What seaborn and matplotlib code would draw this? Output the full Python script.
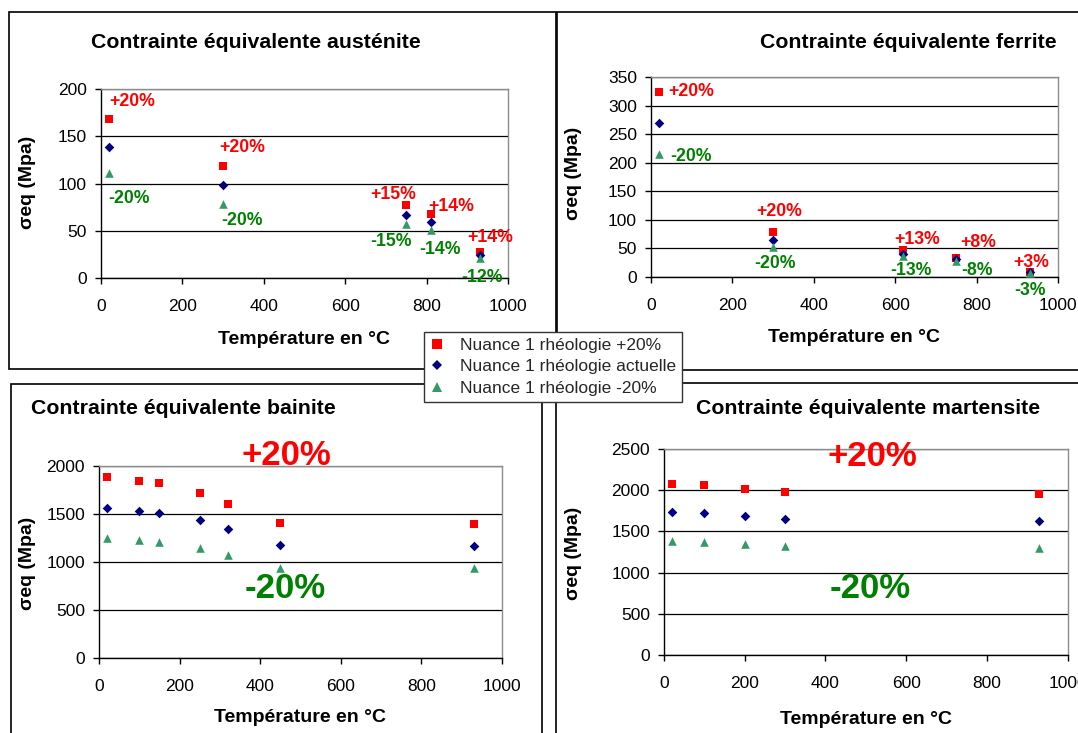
import matplotlib
matplotlib.use("Agg")
import matplotlib.pyplot as plt
import seaborn as sns
import pandas as pd
from matplotlib.patches import Rectangle
from matplotlib.lines import Line2D

# ---------------- data ----------------
series_names = ["Nuance 1 rhéologie +20%",
                "Nuance 1 rhéologie actuelle",
                "Nuance 1 rhéologie -20%"]

# austénite
aus_temp = [20, 300, 750, 812, 930]
aus_plus = [168, 118, 77, 68, 27]
aus_actual = [139, 98, 67, 59, 24]
aus_minus = [111, 78, 57, 51, 21]
aus_plus_labels = ["+20%", "+20%", "+15%", "+14%", "+14%"]
aus_minus_labels = ["-20%", "-20%", "-15%", "-14%", "-12%"]

# ferrite
fer_temp = [20, 300, 620, 750, 930]
fer_plus = [323, 78, 47, 34, 8.5]
fer_actual = [269, 65, 41, 31, 8]
fer_minus = [215, 52, 36, 28.5, 7.5]
fer_plus_labels = ["+20%", "+20%", "+13%", "+8%", "+3%"]
fer_minus_labels = ["-20%", "-20%", "-13%", "-8%", "-3%"]

# bainite
bai_temp = [20, 100, 150, 250, 320, 450, 930]
bai_plus = [1880, 1840, 1815, 1718, 1605, 1404, 1392]
bai_actual = [1563, 1532, 1508, 1432, 1342, 1170, 1163]
bai_minus = [1250, 1225, 1205, 1145, 1073, 935, 930]

# martensite
mar_temp = [20, 100, 200, 300, 930]
mar_plus = [2075, 2060, 2020, 1975, 1950]
mar_actual = [1730, 1718, 1685, 1648, 1622]
mar_minus = [1380, 1372, 1345, 1318, 1300]

titles = ["Contrainte équivalente austénite",
          "Contrainte équivalente ferrite",
          "Contrainte équivalente bainite",
          "Contrainte équivalente martensite"]
x_label = "Température en °C"
y_label = "σeq (Mpa)"

# ---------------- style ----------------
sns.set_theme(style="white")
plt.rcParams["font.family"] = ["Liberation Sans", "DejaVu Sans"]

W, H = 1078, 733
RED = "#FF0000"
NAVY = "#000080"
SEA = "#339966"
GREEN = "#008000"
markers = ["s", "D", "^"]
colors = [RED, NAVY, SEA]
msizes = [32, 24, 38]

fig = plt.figure(figsize=(W / 100, H / 100), dpi=100)
fig.patch.set_facecolor("white")


def px(x, y):
    return x / W, 1 - y / H


def add_axes(left, top, right, bottom):
    return fig.add_axes([left / W, 1 - bottom / H, (right - left) / W, (bottom - top) / H])


def draw_panel(ax, temp, plus, actual, minus, ymax, ystep):
    df = pd.DataFrame({
        "temp": temp * 3,
        "sigma": plus + actual + minus,
        "serie": [series_names[0]] * len(temp) + [series_names[1]] * len(temp)
                 + [series_names[2]] * len(temp),
    })
    for name, mk, col, sz in zip(series_names, markers, colors, msizes):
        sub = df[df["serie"] == name]
        sns.scatterplot(data=sub, x="temp", y="sigma", marker=mk, color=col,
                        s=sz, linewidth=0, ax=ax, legend=False, zorder=4,
                        clip_on=False)
    ax.set_xlim(0, 1000)
    ax.set_ylim(0, ymax)
    ax.set_xticks(range(0, 1001, 200))
    ax.set_yticks(range(0, ymax + 1, ystep))
    ax.set_xlabel("")
    ax.set_ylabel("")
    ax.set_facecolor("white")
    ax.yaxis.grid(True, color="black", linewidth=0.9)
    ax.xaxis.grid(False)
    ax.set_axisbelow(True)
    for side in ["left", "bottom"]:
        ax.spines[side].set_color("black")
        ax.spines[side].set_linewidth(1.0)
    for side in ["top", "right"]:
        ax.spines[side].set_color("#8c8c8c")
        ax.spines[side].set_linewidth(1.0)
    ax.tick_params(axis="both", which="major", direction="out", length=4,
                   width=1, color="black", labelsize=12.5, labelcolor="black",
                   bottom=True, left=True, pad=6)
    ax.tick_params(axis="x", pad=11)


# ---------------- panel frames ----------------
frame_kw = dict(transform=fig.transFigure, fill=False, edgecolor="black",
                linewidth=1.2, zorder=1)
for (x0, y0, x1, y1) in [(9, 12, 556, 369), (557, 12, 1090, 370),
                         (11, 384, 542, 745), (556, 383, 1090, 745)]:
    fig.patches.append(Rectangle((x0 / W, 1 - y1 / H), (x1 - x0) / W,
                                 (y1 - y0) / H, **frame_kw))

# ---------------- austénite ----------------
ax1 = add_axes(101, 89, 508, 278)
draw_panel(ax1, aus_temp, aus_plus, aus_actual, aus_minus, 200, 50)
aus_plus_pos = [(21, 187), (291, 138), (662, 88), (804, 76), (899, 43)]
aus_minus_pos = [(17, 84), (295, 61), (662, 39), (782, 30), (885, 0)]
for (x, y), t in zip(aus_plus_pos, aus_plus_labels):
    ax1.text(x, y, t, color=RED, fontsize=12.7, fontweight="bold",
             ha="left", va="center", zorder=5)
for (x, y), t in zip(aus_minus_pos, aus_minus_labels):
    ax1.text(x, y, t, color=GREEN, fontsize=12.7, fontweight="bold",
             ha="left", va="center", zorder=5)

# ---------------- ferrite ----------------
ax2 = add_axes(651, 77, 1058, 277)
draw_panel(ax2, fer_temp, fer_plus, fer_actual, fer_minus, 350, 50)
fer_plus_pos = [(43, 324), (258, 114), (597, 66), (761, 61), (890, 26)]
fer_minus_pos = [(47, 211), (254, 23), (589, 12), (763, 12), (892, -23)]
for (x, y), t in zip(fer_plus_pos, fer_plus_labels):
    ax2.text(x, y, t, color=RED, fontsize=12.7, fontweight="bold",
             ha="left", va="center", zorder=5)
for (x, y), t in zip(fer_minus_pos, fer_minus_labels):
    ax2.text(x, y, t, color=GREEN, fontsize=12.7, fontweight="bold",
             ha="left", va="center", zorder=5)

# ---------------- bainite ----------------
ax3 = add_axes(99, 465.5, 502, 658)
draw_panel(ax3, bai_temp, bai_plus, bai_actual, bai_minus, 2000, 500)
ax3.text(466, 2100, "+20%", color=RED, fontsize=25, fontweight="bold",
         ha="center", va="center", zorder=5)
ax3.text(461, 718, "-20%", color=GREEN, fontsize=25, fontweight="bold",
         ha="center", va="center", zorder=5)

# ---------------- martensite ----------------
ax4 = add_axes(664, 449, 1067.5, 655)
draw_panel(ax4, mar_temp, mar_plus, mar_actual, mar_minus, 2500, 500)
ax4.text(517, 2412, "+20%", color=RED, fontsize=25, fontweight="bold",
         ha="center", va="center", zorder=5)
ax4.text(510, 804, "-20%", color=GREEN, fontsize=25, fontweight="bold",
         ha="center", va="center", zorder=5)

# ---------------- titles and axis labels ----------------
title_pos = [(256, 43), (908, 43), (183, 408), (868, 408)]
xlabel_pos = [(304, 340), (854, 338), (300, 718), (866, 719)]
ylabel_pos = [(28, 182), (573, 173), (27, 563), (573, 553)]
for t, (x, y) in zip(titles, title_pos):
    fig.text(*px(x, y), t, fontsize=15.3, fontweight="bold", ha="center",
             va="center", color="black")
for (x, y) in xlabel_pos:
    fig.text(*px(x, y), x_label, fontsize=14, fontweight="bold", ha="center",
             va="center", color="black")
for (x, y) in ylabel_pos:
    fig.text(*px(x, y), y_label, fontsize=14, fontweight="bold", ha="center",
             va="center", rotation=90, color="black")

# ---------------- shared legend ----------------
handles = [Line2D([], [], linestyle="none", marker=m, color=c, markersize=ms,
                  markeredgewidth=0)
           for m, c, ms in zip(markers, colors, [6.5, 5.5, 7.0])]
leg = fig.legend(handles, series_names, loc="upper left",
                 bbox_to_anchor=px(424, 332), borderaxespad=0,
                 frameon=True, fancybox=False, framealpha=1,
                 edgecolor="#333333", fontsize=12.5, borderpad=0.35,
                 labelspacing=0.35, handlelength=0.8, handletextpad=0.9)
leg.get_frame().set_linewidth(1.0)
leg.set_zorder(10)

fig.savefig("out.png", dpi=100, facecolor="white")
